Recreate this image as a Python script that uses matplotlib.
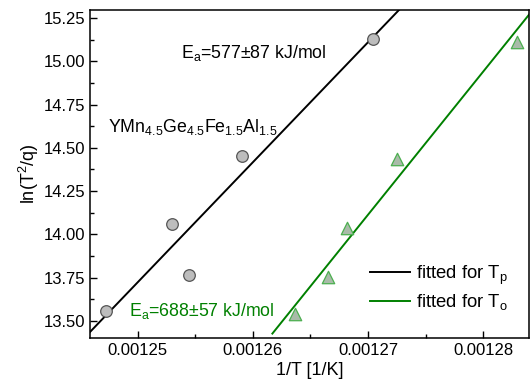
import matplotlib.pyplot as plt
import numpy as np
from matplotlib.ticker import MultipleLocator, FormatStrFormatter

plt.rcParams['font.family'] = ['Liberation Sans', 'DejaVu Sans']

# peak temperature data (circles)
inv_tp = [0.0012473, 0.0012530, 0.0012545, 0.0012591, 0.0012704]
ln_tp = [13.556, 14.058, 13.767, 14.450, 15.127]

# onset temperature data (triangles)
inv_to = [0.0012637, 0.0012665, 0.0012682, 0.0012725, 0.0012829]
ln_to = [13.537, 13.754, 14.039, 14.437, 15.110]

# fitted lines: slope, intercept, x-range
fit_p = (69400.0, -73.028, (0.001245, 0.001276))
fit_o = (82750.0, -90.979, (0.0012617, 0.001285))

fig, ax = plt.subplots(figsize=(5.31, 3.87), dpi=100)
fig.subplots_adjust(left=0.17, right=0.997, top=0.975, bottom=0.127)

for (k, b, (x0, x1)), col, lab in [(fit_p, 'black', 'fitted for T$_\\mathregular{p}$'),
                                   (fit_o, '#008000', 'fitted for T$_\\mathregular{o}$')]:
    xs = np.array([x0, x1])
    ax.plot(xs, k * xs + b, color=col, lw=1.4, label=lab)

ax.scatter(inv_tp, ln_tp, s=70, marker='o', facecolor='#bdbdbd', edgecolor='#555555', lw=0.9, zorder=3)
ax.scatter(inv_to, ln_to, s=80, marker='^', facecolor='#a9bba9', edgecolor='#4caf50', lw=0.9, zorder=3)

ax.set_xlim(0.0012459, 0.0012840)
ax.set_ylim(13.402, 15.298)
ax.xaxis.set_major_locator(MultipleLocator(0.00001))
ax.xaxis.set_minor_locator(MultipleLocator(0.000005))
ax.xaxis.set_major_formatter(FormatStrFormatter('%.5f'))
ax.yaxis.set_major_locator(MultipleLocator(0.25))
ax.yaxis.set_minor_locator(MultipleLocator(0.125))
ax.yaxis.set_major_formatter(FormatStrFormatter('%.2f'))
ax.tick_params(which='both', direction='in', labelsize=12, width=1)
ax.tick_params(which='major', length=5)
ax.tick_params(which='minor', length=3)
for s in ax.spines.values():
    s.set_linewidth(1.1)

ax.set_xlabel('1/T [1/K]', fontsize=13, labelpad=3)
ax.set_ylabel('ln(T$^\\mathregular{2}$/q)', fontsize=13, labelpad=2)

ax.text(0.0012538, 15.05, 'E$_\\mathregular{a}$=577±87 kJ/mol', fontsize=12.8, va='center')
ax.text(0.0012474, 14.62, 'YMn$_\\mathregular{4.5}$Ge$_\\mathregular{4.5}$Fe$_\\mathregular{1.5}$Al$_\\mathregular{1.5}$',
        fontsize=12.8, va='center')
ax.text(0.0012493, 13.56, 'E$_\\mathregular{a}$=688±57 kJ/mol', fontsize=12.8, va='center', color='#008000')

ax.legend(loc='center left', bbox_to_anchor=(0.636, 0.152), frameon=False, fontsize=13.3,
          borderpad=0, borderaxespad=0, handlelength=2.2, handletextpad=0.3, labelspacing=0.3)

fig.savefig('out.png')
